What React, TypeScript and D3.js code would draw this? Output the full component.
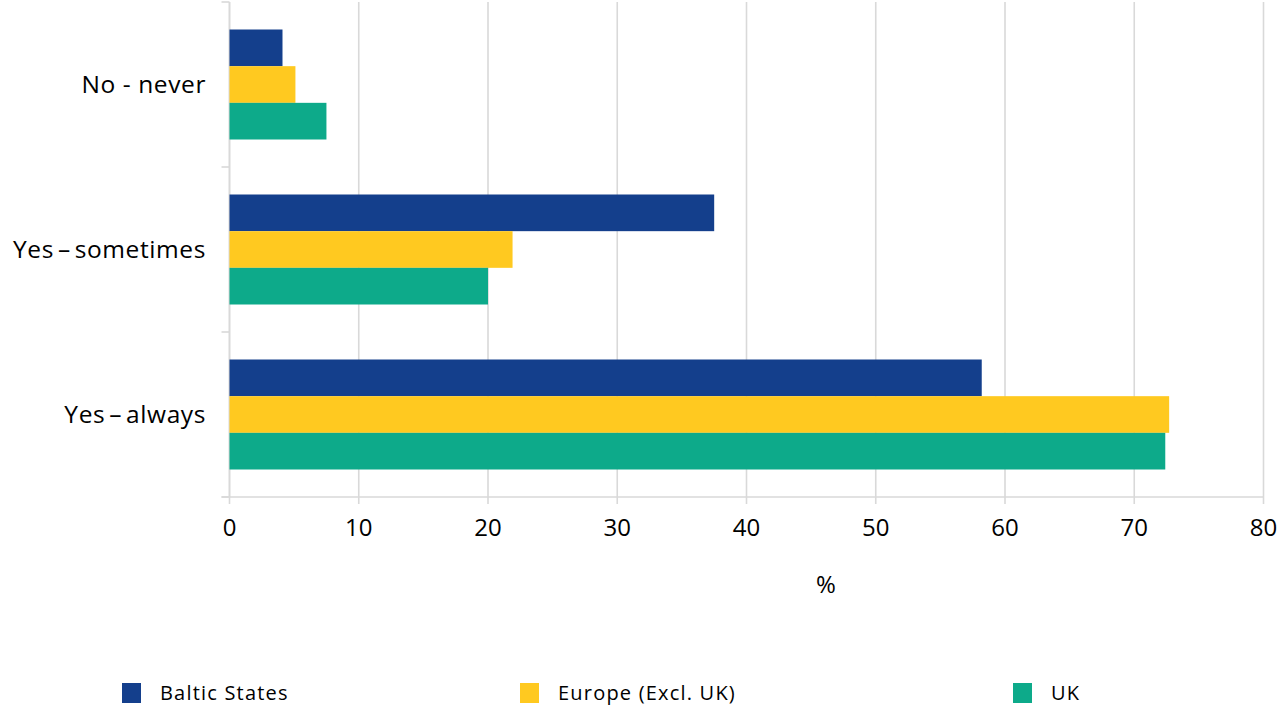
import React from "react";
import * as d3 from "d3";

const categories = ["No - never", "Yes – sometimes", "Yes – always"];
const seriesNames = ["Baltic States", "Europe (Excl. UK)", "UK"];
const seriesColors = ["#143F8C", "#FFC920", "#0DAA8A"];
const balticValues = [4.1, 37.5, 58.2];
const europeValues = [5.1, 21.9, 72.7];
const ukValues = [7.5, 20.0, 72.4];
const xTicks = [0, 10, 20, 30, 40, 50, 60, 70, 80];

const W = 1280;
const H = 707;
const margin = { left: 229.5, right: 16.5, top: 2, bottom: 210 };
const FONT = "'Open Sans', 'Noto Sans', sans-serif";
const GRID = "#D9D9D9";

export default function App() {
  const series = [balticValues, europeValues, ukValues];
  const x = d3.scaleLinear().domain([0, 80]).range([margin.left, W - margin.right]);
  const y = d3
    .scaleBand<string>()
    .domain(categories)
    .range([margin.top, H - margin.bottom])
    .paddingInner(1 / 3)
    .paddingOuter(1 / 6);
  const inner = d3
    .scaleBand<number>()
    .domain(d3.range(seriesNames.length))
    .range([0, y.bandwidth()]);
  const y0 = margin.top;
  const y1 = H - margin.bottom;
  const step = y.step();
  const boundaries = d3.range(categories.length + 1).map((i) => y0 + i * step);

  const legendX = [122, 520, 1013];

  return (
    <svg
      width={W}
      height={H}
      style={{ position: "absolute", left: 0, top: 0, background: "#fff" }}
      fontFamily={FONT}
    >
      {/* vertical gridlines */}
      {xTicks.map((t) => (
        <line key={"g" + t} x1={x(t)} x2={x(t)} y1={y0} y2={y1 + 7} stroke={GRID} strokeWidth={1.6} />
      ))}
      {/* category axis with band ticks */}
      <line x1={margin.left} x2={margin.left} y1={y0} y2={y1} stroke={GRID} strokeWidth={1.6} />
      {boundaries.map((b, i) => (
        <line key={"b" + i} x1={margin.left - 8} x2={margin.left} y1={b} y2={b} stroke={GRID} strokeWidth={1.6} />
      ))}
      <line x1={margin.left - 8} x2={x(80)} y1={y1} y2={y1} stroke={GRID} strokeWidth={1.6} />

      {/* bars */}
      {categories.map((c, ci) => (
        <g key={c} transform={`translate(0,${y(c)})`}>
          {series.map((vals, si) => (
            <rect
              key={si}
              x={x(0)}
              y={inner(si)}
              width={x(vals[ci]) - x(0)}
              height={inner.bandwidth()}
              fill={seriesColors[si]}
            />
          ))}
        </g>
      ))}

      {/* category labels; the en-dash labels are set tighter around the dash */}
      {categories.map((c) => (
        <text
          key={"l" + c}
          x={206}
          y={(y(c) ?? 0) + y.bandwidth() / 2 + 8.5}
          textAnchor="end"
          fontSize={24.5}
          letterSpacing={0.6}
          wordSpacing={c.includes("–") ? -3 : 0}
          fill="#000"
        >
          {c}
        </text>
      ))}

      {/* value ticks */}
      {xTicks.map((t) => (
        <text key={"t" + t} x={x(t)} y={536} textAnchor="middle" fontSize={24} fill="#000">
          {t}
        </text>
      ))}
      <text x={826} y={593} textAnchor="middle" fontSize={24} fill="#000">
        %
      </text>

      {/* legend */}
      {seriesNames.map((n, i) => (
        <g key={n}>
          <rect x={legendX[i]} y={683} width={19} height={20} fill={seriesColors[i]} />
          <text x={legendX[i] + 38} y={700} fontSize={20} letterSpacing={1.2} fill="#000">
            {n}
          </text>
        </g>
      ))}
    </svg>
  );
}
